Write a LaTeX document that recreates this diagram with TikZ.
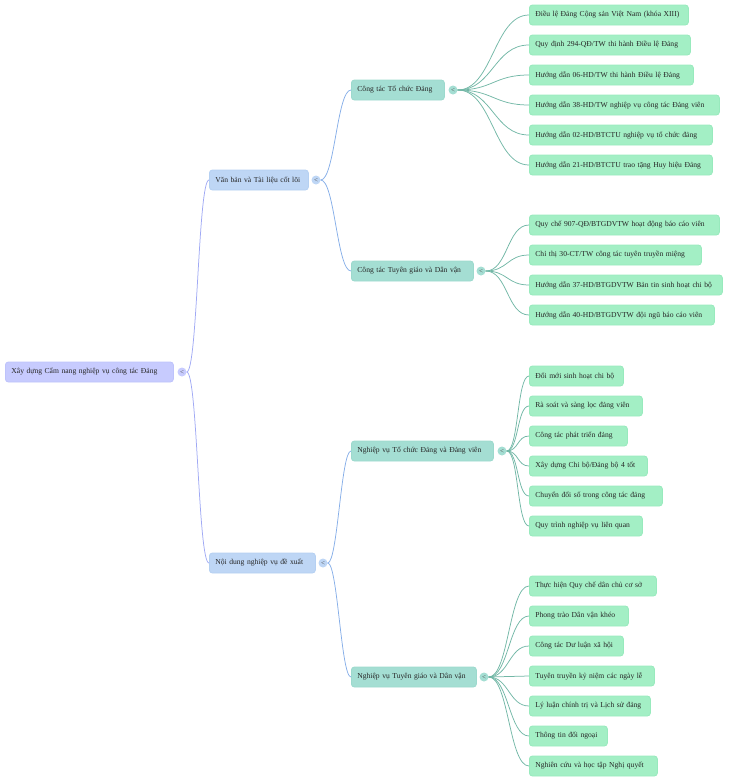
\documentclass[tikz,border=0pt]{standalone}
\usepackage{fontspec}
\setmainfont{Liberation Serif}
\definecolor{rootfill}{HTML}{C7CBFE}
\definecolor{rootdraw}{HTML}{BEC3FB}
\definecolor{rootline}{HTML}{A0A9F4}
\definecolor{lonefill}{HTML}{BED6F5}
\definecolor{lonedraw}{HTML}{B5D0F2}
\definecolor{loneline}{HTML}{86AEE8}
\definecolor{ltwofill}{HTML}{A4DED3}
\definecolor{ltwodraw}{HTML}{9CD9CD}
\definecolor{leafline}{HTML}{72B7A6}
\definecolor{leaffill}{HTML}{A3EFC5}
\definecolor{leafdraw}{HTML}{98EABD}
\definecolor{txt}{HTML}{262626}
\tikzset{
  box/.style={rounded corners=3pt, minimum height=20pt, inner xsep=6pt, inner ysep=0pt,
    anchor=west, font=\fontsize{7.6}{9}\selectfont, text=txt, align=left, line width=0.8pt},
  w/.style={text width=#1pt-12pt},
  rootbox/.style={box, fill=rootfill, draw=rootdraw},
  lonebox/.style={box, fill=lonefill, draw=lonedraw},
  ltwobox/.style={box, fill=ltwofill, draw=ltwodraw},
  leafbox/.style={box, fill=leaffill, draw=leafdraw},
  knob/.style={circle, minimum size=9pt, inner sep=0pt, fill=#1,
    font=\fontsize{7}{7}\selectfont, text=black!70},
  conn/.style={line width=0.75pt, draw=#1},
}
\newcommand\Tx[1]{\mbox{#1}}
\begin{document}
\begin{tikzpicture}[x=1pt,y=-1pt]
\useasboundingbox (0,0) rectangle (740,782);
% root
\node[rootbox, w=168] (root) at (5,372) {\Tx{Xây dựng Cẩm nang nghiệp vụ công tác Đảng}};
\node[knob=rootfill] (kr) at (182,372) {<};
% level 1
\node[lonebox, w=99] (a) at (209,180) {\Tx{Văn bản và Tài liệu cốt lõi}};
\node[knob=lonefill] (ka) at (316,180) {<};
\node[lonebox, w=106] (b) at (209,563) {\Tx{Nội dung nghiệp vụ đề xuất}};
\node[knob=lonefill] (kb) at (323,563) {<};
% level 2
\node[ltwobox, w=93] (a1) at (351,90) {\Tx{Công tác Tổ chức Đảng}};
\node[knob=ltwofill] (ka1) at (453,90) {<};
\node[ltwobox, w=122] (a2) at (351,271) {\Tx{Công tác Tuyên giáo và Dân vận}};
\node[knob=ltwofill] (ka2) at (481,271) {<};
\node[ltwobox, w=142] (b1) at (351,451) {\Tx{Nghiệp vụ Tổ chức Đảng và Đảng viên}};
\node[knob=ltwofill] (kb1) at (502,451) {<};
\node[ltwobox, w=125] (b2) at (351,677) {\Tx{Nghiệp vụ Tuyên giáo và Dân vận}};
\node[knob=ltwofill] (kb2) at (484,677) {<};
% leaves a1
\node[leafbox, w=159] (a11) at (529,15) {\Tx{Điều lệ Đảng Cộng sản Việt Nam (khóa XIII)}};
\node[leafbox, w=161] (a12) at (529,45) {\Tx{Quy định 294-QĐ/TW thi hành Điều lệ Đảng}};
\node[leafbox, w=164] (a13) at (529,75) {\Tx{Hướng dẫn 06-HD/TW thi hành Điều lệ Đảng}};
\node[leafbox, w=190] (a14) at (529,105) {\Tx{Hướng dẫn 38-HD/TW nghiệp vụ công tác Đảng viên}};
\node[leafbox, w=183] (a15) at (529,135) {\Tx{Hướng dẫn 02-HD/BTCTU nghiệp vụ tổ chức đảng}};
\node[leafbox, w=183] (a16) at (529,165) {\Tx{Hướng dẫn 21-HD/BTCTU trao tặng Huy hiệu Đảng}};
% leaves a2
\node[leafbox, w=190] (a21) at (529,225) {\Tx{Quy chế 907-QĐ/BTGDVTW hoạt động báo cáo viên}};
\node[leafbox, w=172] (a22) at (529,255) {\Tx{Chỉ thị 30-CT/TW công tác tuyên truyền miệng}};
\node[leafbox, w=193] (a23) at (529,285) {\Tx{Hướng dẫn 37-HD/BTGDVTW Bản tin sinh hoạt chi bộ}};
\node[leafbox, w=185] (a24) at (529,315) {\Tx{Hướng dẫn 40-HD/BTGDVTW đội ngũ báo cáo viên}};
% leaves b1
\node[leafbox, w=94] (b11) at (529,376) {\Tx{Đổi mới sinh hoạt chi bộ}};
\node[leafbox, w=113] (b12) at (529,406) {\Tx{Rà soát và sàng lọc đảng viên}};
\node[leafbox, w=98] (b13) at (529,436) {\Tx{Công tác phát triển đảng}};
\node[leafbox, w=118] (b14) at (529,466) {\Tx{Xây dựng Chi bộ/Đảng bộ 4 tốt}};
\node[leafbox, w=133] (b15) at (529,496) {\Tx{Chuyển đổi số trong công tác đảng}};
\node[leafbox, w=113] (b16) at (529,526) {\Tx{Quy trình nghiệp vụ liên quan}};
% leaves b2
\node[leafbox, w=127] (b21) at (529,586) {\Tx{Thực hiện Quy chế dân chủ cơ sở}};
\node[leafbox, w=99] (b22) at (529,616) {\Tx{Phong trào Dân vận khéo}};
\node[leafbox, w=94] (b23) at (529,646) {\Tx{Công tác Dư luận xã hội}};
\node[leafbox, w=125] (b24) at (529,676) {\Tx{Tuyên truyền kỷ niệm các ngày lễ}};
\node[leafbox, w=121] (b25) at (529,706) {\Tx{Lý luận chính trị và Lịch sử đảng}};
\node[leafbox, w=78] (b26) at (529,736) {\Tx{Thông tin đối ngoại}};
\node[leafbox, w=128] (b27) at (529,766) {\Tx{Nghiên cứu và học tập Nghị quyết}};
% connectors root -> level 1
\foreach \c in {a,b}
  \draw[conn=rootline] (kr.east) .. controls +(11,0) and +(-11,0) .. (\c.west);
% level 1 -> level 2
\foreach \c in {a1,a2}
  \draw[conn=loneline] (ka.east) .. controls +(14,0) and +(-14,0) .. (\c.west);
\foreach \c in {b1,b2}
  \draw[conn=loneline] (kb.east) .. controls +(10,0) and +(-10,0) .. (\c.west);
% level 2 -> leaves
\foreach \c in {a11,a12,a13,a14,a15,a16}
  \draw[conn=leafline] (ka1.east) .. controls +(35,0) and +(-35,0) .. (\c.west);
\foreach \c in {a21,a22,a23,a24}
  \draw[conn=leafline] (ka2.east) .. controls +(22,0) and +(-22,0) .. (\c.west);
\foreach \c in {b11,b12,b13,b14,b15,b16}
  \draw[conn=leafline] (kb1.east) .. controls +(12,0) and +(-12,0) .. (\c.west);
\foreach \c in {b21,b22,b23,b24,b25,b26,b27}
  \draw[conn=leafline] (kb2.east) .. controls +(20,0) and +(-20,0) .. (\c.west);
\end{tikzpicture}
\end{document}
